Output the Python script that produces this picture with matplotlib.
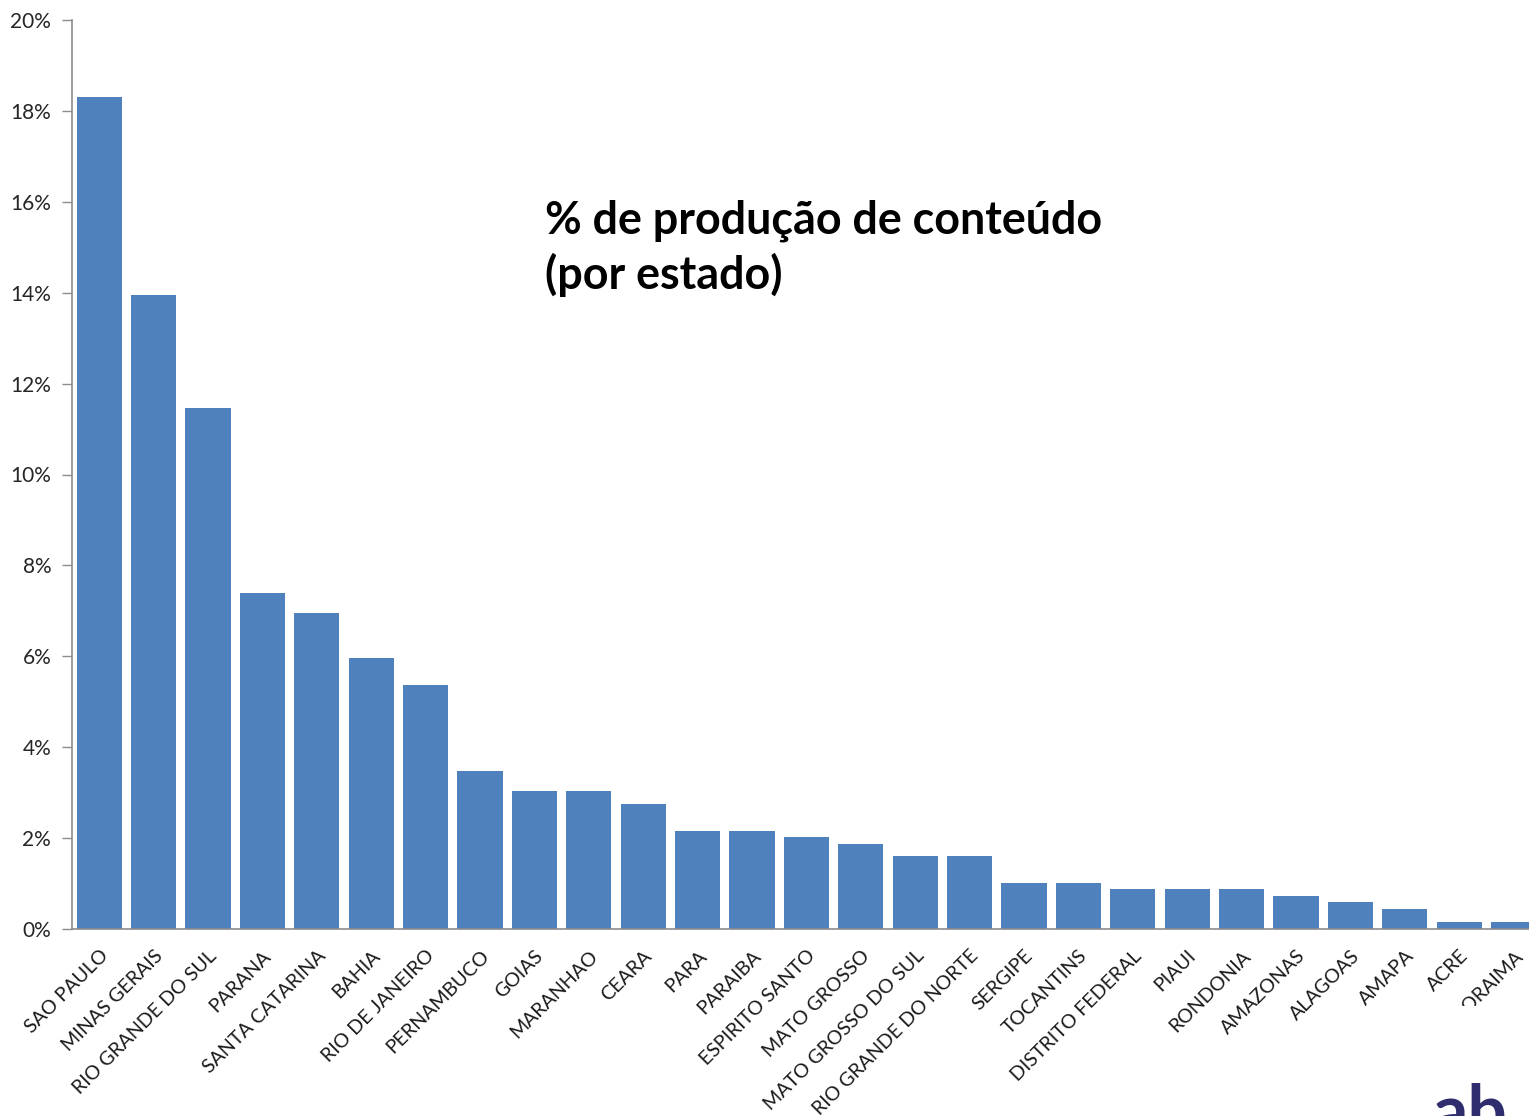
import matplotlib
matplotlib.use("Agg")
import matplotlib.pyplot as plt
from matplotlib.ticker import MultipleLocator, FuncFormatter
from matplotlib.transforms import Bbox

states = [
    "SAO PAULO", "MINAS GERAIS", "RIO GRANDE DO SUL", "PARANA", "SANTA CATARINA",
    "BAHIA", "RIO DE JANEIRO", "PERNAMBUCO", "GOIAS", "MARANHAO", "CEARA", "PARA",
    "PARAIBA", "ESPIRITO SANTO", "MATO GROSSO", "MATO GROSSO DO SUL",
    "RIO GRANDE DO NORTE", "SERGIPE", "TOCANTINS", "DISTRITO FEDERAL", "PIAUI",
    "RONDONIA", "AMAZONAS", "ALAGOAS", "AMAPA", "ACRE", "RORAIMA",
]
share_pct = [
    18.30, 13.95, 11.46, 7.39, 6.95, 5.96, 5.37, 3.48, 3.04, 3.04, 2.75, 2.16,
    2.16, 2.02, 1.87, 1.61, 1.61, 1.01, 1.01, 0.88, 0.88, 0.88, 0.73, 0.59,
    0.44, 0.15, 0.15,
]
title_lines = ["% de produção de conteúdo", "(por estado)"]

W, H, DPI = 1529, 1116, 100
fig = plt.figure(figsize=(W / DPI, H / DPI), dpi=DPI)
fig.patch.set_facecolor("white")

# plot area in pixels: left spine x=72, top y=20, baseline y=929
left_px, top_px, base_px = 72, 20, 929
slot_px = 54.4
ax_w_px = slot_px * len(states)
ax = fig.add_axes([left_px / W, (H - base_px) / H, ax_w_px / W, (base_px - top_px) / H])

x = range(len(states))
ax.bar(x, share_pct, width=0.83, color="#4F81BD", edgecolor="none", zorder=2)

ax.set_xlim(-0.5, len(states) - 0.5)
ax.set_ylim(0, 20)
ax.yaxis.set_major_locator(MultipleLocator(2))
ax.yaxis.set_major_formatter(FuncFormatter(lambda v, p: f"{v:.0f}%"))

for side in ("top", "right"):
    ax.spines[side].set_visible(False)
for side in ("left", "bottom"):
    ax.spines[side].set_color("#8c8c8c")
    ax.spines[side].set_linewidth(1.2)

ax.tick_params(axis="y", direction="out", length=7, width=1.0, color="#8c8c8c",
               labelsize=15, labelcolor="#262626", pad=8)
ax.tick_params(axis="x", length=0, pad=13)
for lbl in ax.get_yticklabels():
    lbl.set_family("Lato")

ax.set_xticks(list(x))
ax.set_xticklabels(states, rotation=45, ha="right", rotation_mode="anchor",
                   fontsize=14.1, color="#1a1a1a", family="Lato")

# last label is cut off along the bottom of the chart area
last = ax.get_xticklabels()[-1]
last.set_clip_on(True)
last.set_clip_box(Bbox.from_extents(0, H - 1006, W, H))

fig.text(545 / W, 1 - 199 / H, "\n".join(title_lines), ha="left", va="top",
         fontsize=32.3, fontweight="bold", family="Lato", color="black",
         linespacing=1.3)

# partial logo in the lower right corner
fig.text(1432 / W, 1 - 1082 / H, "ab", ha="left", va="top", fontsize=50,
         fontweight="bold", family="Lato", color="#2f2d6e")

fig.savefig("out.png", dpi=DPI, facecolor="white")
